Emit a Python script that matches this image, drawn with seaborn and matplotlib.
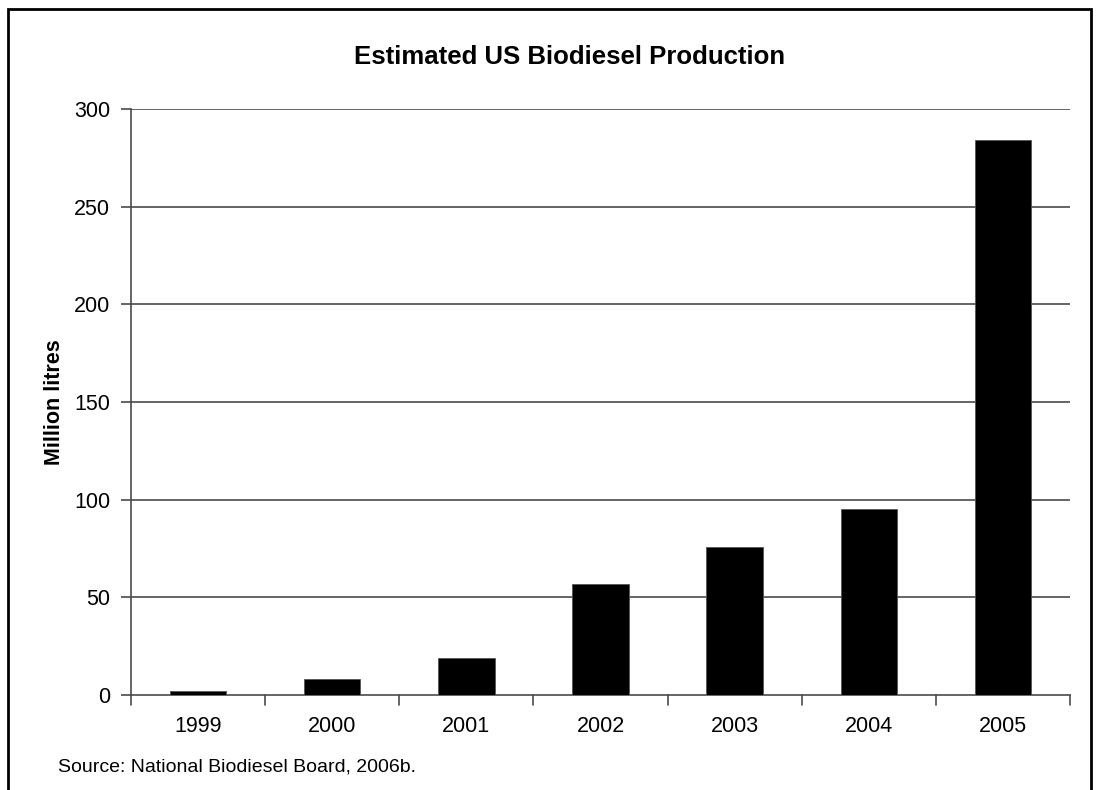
import matplotlib
matplotlib.use("Agg")
import matplotlib.pyplot as plt
from matplotlib.patches import Rectangle
import seaborn as sns
import pandas as pd

years = ["1999", "2000", "2001", "2002", "2003", "2004", "2005"]
production = [2, 8, 19, 57, 76, 95, 284]
y_ticks = [0, 50, 100, 150, 200, 250, 300]

sns.set_theme(style="white")
plt.rcParams["font.family"] = ["Liberation Sans", "DejaVu Sans"]
plt.rcParams["text.color"] = "black"

df = pd.DataFrame({"Year": years, "Production": production})

W, H = 1120, 790
fig = plt.figure(figsize=(W / 100, H / 100), dpi=100)
ax = fig.add_axes([131 / W, 1 - 695 / H, 939 / W, 586 / H])

sns.barplot(data=df, x="Year", y="Production", color="black", width=0.42,
            saturation=1, edgecolor="#555555", linewidth=0.6, ax=ax, zorder=3)

ax.set_ylim(0, 300)
ax.set_xlim(-0.5, len(years) - 0.5)
ax.set_yticks(y_ticks)
ax.set_yticklabels([str(v) for v in y_ticks], fontsize=15.5, color="black")
ax.set_xticks(range(len(years)))
ax.set_xticklabels(years, fontsize=15.5, color="black")

# grid lines at each major y tick
for v in y_ticks[1:]:
    ax.axhline(v, color="#4a4a4a", linewidth=1.2, zorder=1)

# category boundary ticks on the x axis
ax.tick_params(axis="x", length=0, pad=15)
for b in range(len(years) + 1):
    ax.plot([b - 0.5, b - 0.5], [0, -0.017], transform=ax.get_xaxis_transform(),
            color="#4a4a4a", linewidth=1.2, clip_on=False)
ax.tick_params(axis="y", left=True, length=7, width=1.2, color="#4a4a4a", pad=8)

for side in ["top", "right"]:
    ax.spines[side].set_visible(False)
for side in ["left", "bottom"]:
    ax.spines[side].set_color("#4a4a4a")
    ax.spines[side].set_linewidth(1.2)

ax.set_xlabel("")
ax.set_ylabel("")
fig.text(54 / W, 1 - 402 / H, "Million litres", rotation=90, color="black",
         ha="center", va="center", fontsize=15.5, fontweight="bold")

fig.text(570 / W, 1 - 57 / H, "Estimated US Biodiesel Production", color="black",
         ha="center", va="center", fontsize=18.5, fontweight="bold")
fig.text(58 / W, 1 - 767 / H, "Source: National Biodiesel Board, 2006b.",
         color="black", ha="left", va="center", fontsize=14)

# outer frame around the chart
fig.patches.append(Rectangle((8 / W, -0.1), (1091 - 8) / W, 1 - 9 / H + 0.1,
                             transform=fig.transFigure, fill=False,
                             edgecolor="black", linewidth=2))

fig.savefig("out.png", dpi=100, facecolor="white")
